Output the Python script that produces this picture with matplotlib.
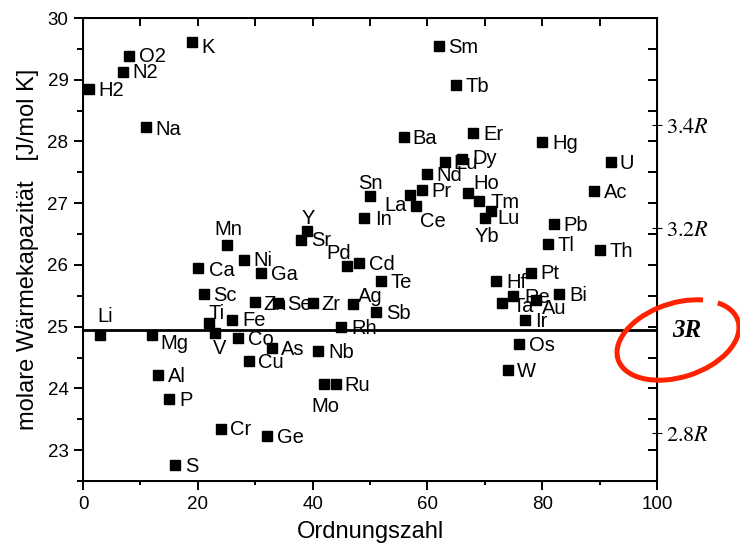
import numpy as np
import matplotlib
matplotlib.use("Agg")
import matplotlib.pyplot as plt
from matplotlib.patches import Arc

# atomic number, molar heat capacity [J/mol K]
names = ["H2", "N2", "O2", "K", "Na", "Li", "Mg", "Al", "P", "S",
         "Ca", "Sc", "Ti", "V", "Cr", "Mn", "Fe", "Co", "Ni", "Cu",
         "Zn", "Ga", "Ge", "As", "Se", "Sr", "Y", "Zr", "Nb", "Mo",
         "Ru", "Rh", "Pd", "Ag", "Cd", "In", "Sn", "Sb", "Te", "Ba",
         "La", "Ce", "Pr", "Nd", "Sm", "Eu", "Dy", "Tb", "Er", "Ho",
         "Tm", "Yb", "Lu", "Hf", "Ta", "W", "Re", "Os", "Ir", "Pt",
         "Au", "Hg", "Tl", "Pb", "Bi", "Ac", "Th", "U"]
z = [1, 7, 8, 19, 11, 3, 12, 13, 15, 16,
     20, 21, 22, 23, 24, 25, 26, 27, 28, 29,
     30, 31, 32, 33, 34, 38, 39, 40, 41, 42,
     44, 45, 46, 47, 48, 49, 50, 51, 52, 56,
     57, 58, 59, 60, 62, 63, 66, 65, 68, 67,
     69, 70, 71, 72, 73, 74, 75, 76, 77, 78,
     79, 80, 81, 82, 83, 89, 90, 92]
cp = [28.85, 29.12, 29.38, 29.61, 28.23, 24.86, 24.86, 24.21, 23.82, 22.76,
      25.95, 25.53, 25.06, 24.89, 23.35, 26.32, 25.11, 24.81, 26.08, 24.44,
      25.40, 25.87, 23.23, 24.65, 25.38, 26.40, 26.55, 25.38, 24.60, 24.07,
      24.07, 24.99, 25.98, 25.36, 26.03, 26.76, 27.12, 25.24, 25.74, 28.07,
      27.13, 26.95, 27.21, 27.47, 29.55, 27.67, 27.71, 28.91, 28.14, 27.16,
      27.03, 26.76, 26.87, 25.74, 25.38, 24.29, 25.49, 24.72, 25.11, 25.87,
      25.43, 27.99, 26.34, 26.66, 25.53, 27.20, 26.24, 27.67]

R = 8.314
r_factors = [2.8, 3.2, 3.4]
r_labels = ["$2.8R$", "$3.2R$", "$3.4R$"]

# label placement (pixels from marker), default: right of the marker
label_pos = {
    "H2": (10, 0), "N2": (9, 1), "O2": (10, 1), "K": (9, -4), "Na": (9, -1),
    "Li": (5, 20, "center"), "Mg": (8, -7), "Ca": (11, -1), "Ti": (-1, 11),
    "V": (5, -14, "center"), "Cr": (9, 1), "Mn": (2, 17, "center"), "Fe": (10, 1),
    "Ni": (10, 1), "Cu": (9, 0), "Zn": (8, -1), "As": (9, 0), "Se": (9, 0),
    "Sr": (10, 1), "Y": (1, 14, "center"), "Zr": (9, 0), "Mo": (1, -21, "center"),
    "Ru": (9, 0), "Pd": (-8, 14, "center"), "Ag": (5, 9), "In": (11, 0),
    "Sn": (0, 14, "center"), "Te": (9, 0), "Ba": (8, 0), "La": (-3, -9, "right"),
    "Ce": (4, -14), "Nd": (9, 0), "Sm": (9, 0), "Eu": (9, 0), "Dy": (11, 2),
    "Tb": (9, 0), "Ho": (6, 11), "Tm": (11, 0), "Yb": (2, -17, "center"),
    "Lu": (7, -6), "Ta": (10, -2), "W": (9, 0), "Re": (11, 0), "Pt": (10, 1),
    "Au": (6, -7), "U": (8, 0),
}

plt.rcParams["font.family"] = ["Liberation Sans", "DejaVu Sans"]
plt.rcParams["mathtext.fontset"] = "stix"

fig = plt.figure(figsize=(7.4, 5.54), dpi=100)
ax = fig.add_axes([0.1122, 0.1318, 0.7756, 0.8357])

ax.plot(z, cp, "s", color="black", markersize=7.2, zorder=3, linestyle="none")
ax.axhline(3 * R, color="black", linewidth=2, zorder=2)

for n, x, y in zip(names, z, cp):
    p = label_pos.get(n, (10, 0))
    ha = p[2] if len(p) > 2 else "left"
    ax.annotate(n, (x, y), xytext=(p[0], p[1] - 7), textcoords="offset pixels",
                ha=ha, va="baseline", fontsize=14.5, zorder=1)

ax.set_xlim(0, 100)
ax.set_ylim(22.5, 30)
ax.xaxis.set_major_locator(plt.MultipleLocator(20))
ax.xaxis.set_minor_locator(plt.MultipleLocator(10))
ax.yaxis.set_major_locator(plt.MultipleLocator(1))
ax.yaxis.set_minor_locator(plt.MultipleLocator(0.5))
ax.tick_params(which="both", direction="out", width=1.4, labelsize=13.5, pad=4)
ax.tick_params(axis="x", which="major", length=6.5)
ax.tick_params(axis="x", which="minor", length=3)
ax.tick_params(axis="y", which="major", length=6.5)
ax.tick_params(axis="y", which="minor", length=4)
for s in ax.spines.values():
    s.set_linewidth(1.4)

ax.set_xlabel("Ordnungszahl", fontsize=17, labelpad=6)
ax.set_ylabel("molare Wärmekapazität   [J/mol K]", fontsize=17, labelpad=6)

# top ticks
axt = ax.twiny()
axt.set_xlim(0, 100)
axt.xaxis.set_major_locator(plt.MultipleLocator(10))
axt.tick_params(axis="x", direction="in", length=5.5, width=1.4, labeltop=False)

# right ticks: plain minor ticks plus n*R crosses
axr = ax.twinx()
axr.set_ylim(22.5, 30)
axr.yaxis.set_minor_locator(plt.MultipleLocator(0.5))
axr.set_yticks([f * R for f in r_factors], r_labels)
axr.tick_params(axis="y", which="minor", direction="in", length=6.5, width=1.4)
axr.tick_params(axis="y", which="major", direction="inout", length=7, width=0.8,
                labelsize=16, pad=3)
for s in axr.spines.values():
    s.set_linewidth(1.4)

axr.text(1.026, 3 * R, "3R", transform=axr.get_yaxis_transform(),
         fontsize=18, fontfamily="Liberation Serif", fontweight="bold",
         fontstyle="italic", ha="left", va="center")

# hand drawn circle around 3R
arc = Arc((6.78, 2.14), 1.26, 0.74, angle=18, theta1=40, theta2=385,
          transform=fig.dpi_scale_trans, color="#ff2200", linewidth=3.6)
fig.add_artist(arc)

fig.savefig("out.png", dpi=100)
